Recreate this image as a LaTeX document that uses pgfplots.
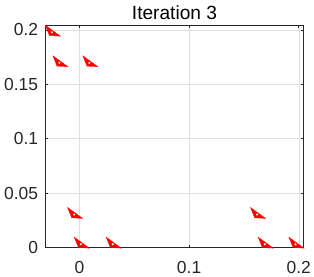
\documentclass[border=0pt]{standalone}
\usepackage{pgfplots}
\pgfplotsset{compat=1.18}
\usepackage{fontspec}
\setmainfont{Liberation Sans}
\definecolor{axc}{HTML}{262626}
\definecolor{gridc}{HTML}{DFDFDF}
\begin{document}
\begin{tikzpicture}
\begin{axis}[
  at={(0,0)}, anchor=south west,
  scale only axis,
  width=258.4bp, height=222.3bp,
  xmin=-0.0311, xmax=0.2045,
  ymin=0, ymax=0.2043,
  clip=false,
  xtick={0,0.1,0.2},
  ytick={0,0.05,0.1,0.15,0.2},
  xticklabels={0,0.1,0.2},
  yticklabels={0,0.05,0.1,0.15,0.2},
  grid=major,
  major grid style={gridc, line width=0.5bp},
  axis line style={axc, line width=0.6bp},
  tick style={axc, line width=0.6bp},
  tick align=inside,
  major tick length=3bp,
  ticklabel style={font=\fontsize{17.5}{20}\selectfont, text=axc},
  xticklabel style={anchor=base, inner sep=0pt, yshift=-26bp},
  yticklabel style={anchor=east, inner sep=0pt, xshift=-7bp},
  title={Iteration 3},
  every axis title shift=0pt,
  title style={font=\fontsize{19.2}{22}\selectfont, at={(0.5,1)}, anchor=base, yshift=6bp, inner sep=0pt},
]
\addplot[fill=red, draw=red, line width=0.3bp] coordinates {(-0.0311,0.2043) (-0.0273,0.1948) (-0.0173,0.1942)} -- cycle;
\addplot[fill=red, draw=red, line width=0.3bp] coordinates {(-0.0242,0.1762) (-0.0204,0.1667) (-0.0104,0.1661)} -- cycle;
\addplot[fill=red, draw=red, line width=0.3bp] coordinates {(0.0031,0.1762) (0.0069,0.1667) (0.0169,0.1661)} -- cycle;
\addplot[fill=red, draw=red, line width=0.3bp] coordinates {(-0.0108,0.0368) (-0.0070,0.0273) (0.0030,0.0267)} -- cycle;
\addplot[fill=red, draw=red, line width=0.3bp] coordinates {(-0.0047,0.0095) (-0.0009,0.0) (0.0091,-0.0006)} -- cycle;
\addplot[fill=red, draw=red, line width=0.3bp] coordinates {(0.0244,0.0095) (0.0282,0.0) (0.0382,-0.0006)} -- cycle;
\addplot[fill=red, draw=red, line width=0.3bp] coordinates {(0.1560,0.0368) (0.1598,0.0273) (0.1698,0.0267)} -- cycle;
\addplot[fill=red, draw=red, line width=0.3bp] coordinates {(0.1630,0.0095) (0.1668,0.0) (0.1768,-0.0006)} -- cycle;
\addplot[fill=red, draw=red, line width=0.3bp] coordinates {(0.1910,0.0095) (0.1948,0.0) (0.2048,-0.0006)} -- cycle;
\addplot[only marks, mark=*, mark size=0.8bp, white, mark options={draw=white, fill=white}] coordinates {
(-0.0251,0.1978) (-0.0182,0.1697) (0.0091,0.1697) (-0.0048,0.0303)
(0.0013,0.0030) (0.0304,0.0030) (0.1620,0.0303) (0.1690,0.0030) (0.1970,0.0030)};
\end{axis}
\pgfresetboundingbox
\path[use as bounding box] (-45.3bp,-29.5bp) rectangle (268.7bp,247.5bp);
\end{tikzpicture}
\end{document}
